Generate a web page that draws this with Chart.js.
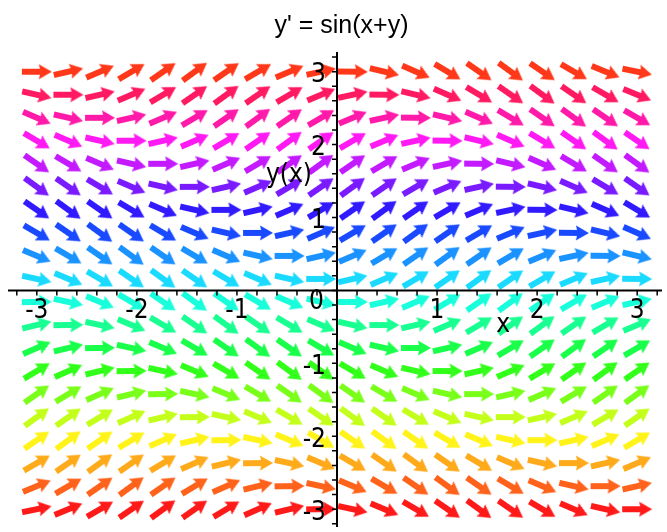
<!DOCTYPE html>
<html>
<head>
<meta charset="utf-8">
<script src="https://cdn.jsdelivr.net/npm/chart.js@4.4.1/dist/chart.umd.min.js"></script>
<style>
  html, body { margin: 0; padding: 0; background: #fff; }
  #c { display: block; }
</style>
</head>
<body>
<canvas id="c" width="667" height="532"></canvas>
<script>
// direction field grid, 20 x 20 points over [-3, 3]
const xs = [-3, -2.684, -2.368, -2.053, -1.737, -1.421, -1.105, -0.789, -0.474, -0.158,
            0.158, 0.474, 0.789, 1.105, 1.421, 1.737, 2.053, 2.368, 2.684, 3];
const ys = [-3, -2.684, -2.368, -2.053, -1.737, -1.421, -1.105, -0.789, -0.474, -0.158,
            0.158, 0.474, 0.789, 1.105, 1.421, 1.737, 2.053, 2.368, 2.684, 3];
const xTicks = [-3, -2, -1, 1, 2, 3];
const xTickLabels = ['-3', '-2', '-1', '1', '2', '3'];
const yTicks = [-3, -2, -1, 0, 1, 2, 3];
const yTickLabels = ['-3', '-2', '-1', '0', '1', '2', '3'];

// y' = sin(x+y)
const slope = (x, y) => Math.sin(x + y);

const LABEL_FONT = '26px "Liberation Sans Narrow", "DejaVu Sans Condensed", sans-serif';

function makeArrow(color) {
  const c = document.createElement('canvas');
  c.width = 32; c.height = 18;
  const g = c.getContext('2d');
  g.fillStyle = color;
  g.beginPath();
  g.moveTo(1, 6);
  g.lineTo(19, 6);
  g.lineTo(18, 1.5);
  g.lineTo(31, 9);
  g.lineTo(18, 16.5);
  g.lineTo(19, 12);
  g.lineTo(1, 12);
  g.closePath();
  g.fill();
  return c;
}

const datasets = ys.map((y, i) => ({
  data: xs.map(x => ({ x: x, y: y, s: slope(x, y) })),
  pointStyle: makeArrow('hsl(' + (i / (ys.length - 1) * 360 + (i === ys.length - 1 ? 8 : 0)) + ',100%,55%)'),
  pointRadius: 3,
  pointRotation: (c) => {
    if (!c.raw) return 0;
    const sx = c.chart.scales.x, sy = c.chart.scales.y;
    const dx = sx.getPixelForValue(1) - sx.getPixelForValue(0);
    const dy = sy.getPixelForValue(c.raw.s) - sy.getPixelForValue(0);
    return Math.atan2(dy, dx) * 180 / Math.PI;
  },
  showLine: false
}));

const axesPlugin = {
  id: 'mapleAxes',
  afterDatasetsDraw(chart) {
    const { ctx, chartArea } = chart;
    const sx = chart.scales.x, sy = chart.scales.y;
    const x0 = sx.getPixelForValue(0), y0 = sy.getPixelForValue(0);
    ctx.save();
    ctx.strokeStyle = '#000';
    ctx.fillStyle = '#000';
    ctx.lineWidth = 2;
    ctx.beginPath();
    ctx.moveTo(8, y0); ctx.lineTo(chartArea.right, y0);
    ctx.moveTo(x0, chartArea.top); ctx.lineTo(x0, chartArea.bottom);
    ctx.stroke();

    ctx.lineWidth = 1.5;
    ctx.beginPath();
    for (let k = -16; k <= 16; k++) {
      const px = sx.getPixelForValue(k / 5);
      ctx.moveTo(px, y0); ctx.lineTo(px, y0 + 5);
      const py = sy.getPixelForValue(k / 5);
      if (py > chartArea.top + 2 && py < chartArea.bottom) {
        ctx.moveTo(x0 - 5, py); ctx.lineTo(x0 + 1, py);
      }
    }
    ctx.stroke();

    ctx.font = LABEL_FONT;
    ctx.textBaseline = 'alphabetic';
    ctx.textAlign = 'center';
    xTicks.forEach((v, i) => ctx.fillText(xTickLabels[i], sx.getPixelForValue(v), y0 + 28));
    ctx.textAlign = 'right';
    yTicks.forEach((v, i) => {
      if (v === 0) ctx.fillText(yTickLabels[i], x0 - 13, y0 + 19);
      else ctx.fillText(yTickLabels[i], x0 - 11, sy.getPixelForValue(v) + 10.5);
    });

    ctx.textAlign = 'center';
    ctx.fillText('x', sx.getPixelForValue(1.66), sy.getPixelForValue(-0.57));
    ctx.fillText('y(x)', sx.getPixelForValue(-0.48), sy.getPixelForValue(1.49));
    ctx.restore();
  }
};

new Chart(document.getElementById('c'), {
  type: 'scatter',
  data: { datasets: datasets },
  options: {
    responsive: false,
    animation: false,
    events: [],
    layout: { padding: { left: 16 } },
    scales: {
      x: { type: 'linear', min: -3.208, max: 3.248, display: false },
      y: { type: 'linear', min: -3.244, max: 3.27, display: false }
    },
    plugins: {
      legend: { display: false },
      tooltip: { enabled: false },
      title: {
        display: true,
        text: "y' = sin(x+y)",
        color: '#000',
        font: { family: '"Liberation Sans", Arial, sans-serif', size: 25, weight: 'normal' },
        padding: { top: 11, bottom: 11 }
      }
    }
  },
  plugins: [axesPlugin]
});
</script>
</body>
</html>
